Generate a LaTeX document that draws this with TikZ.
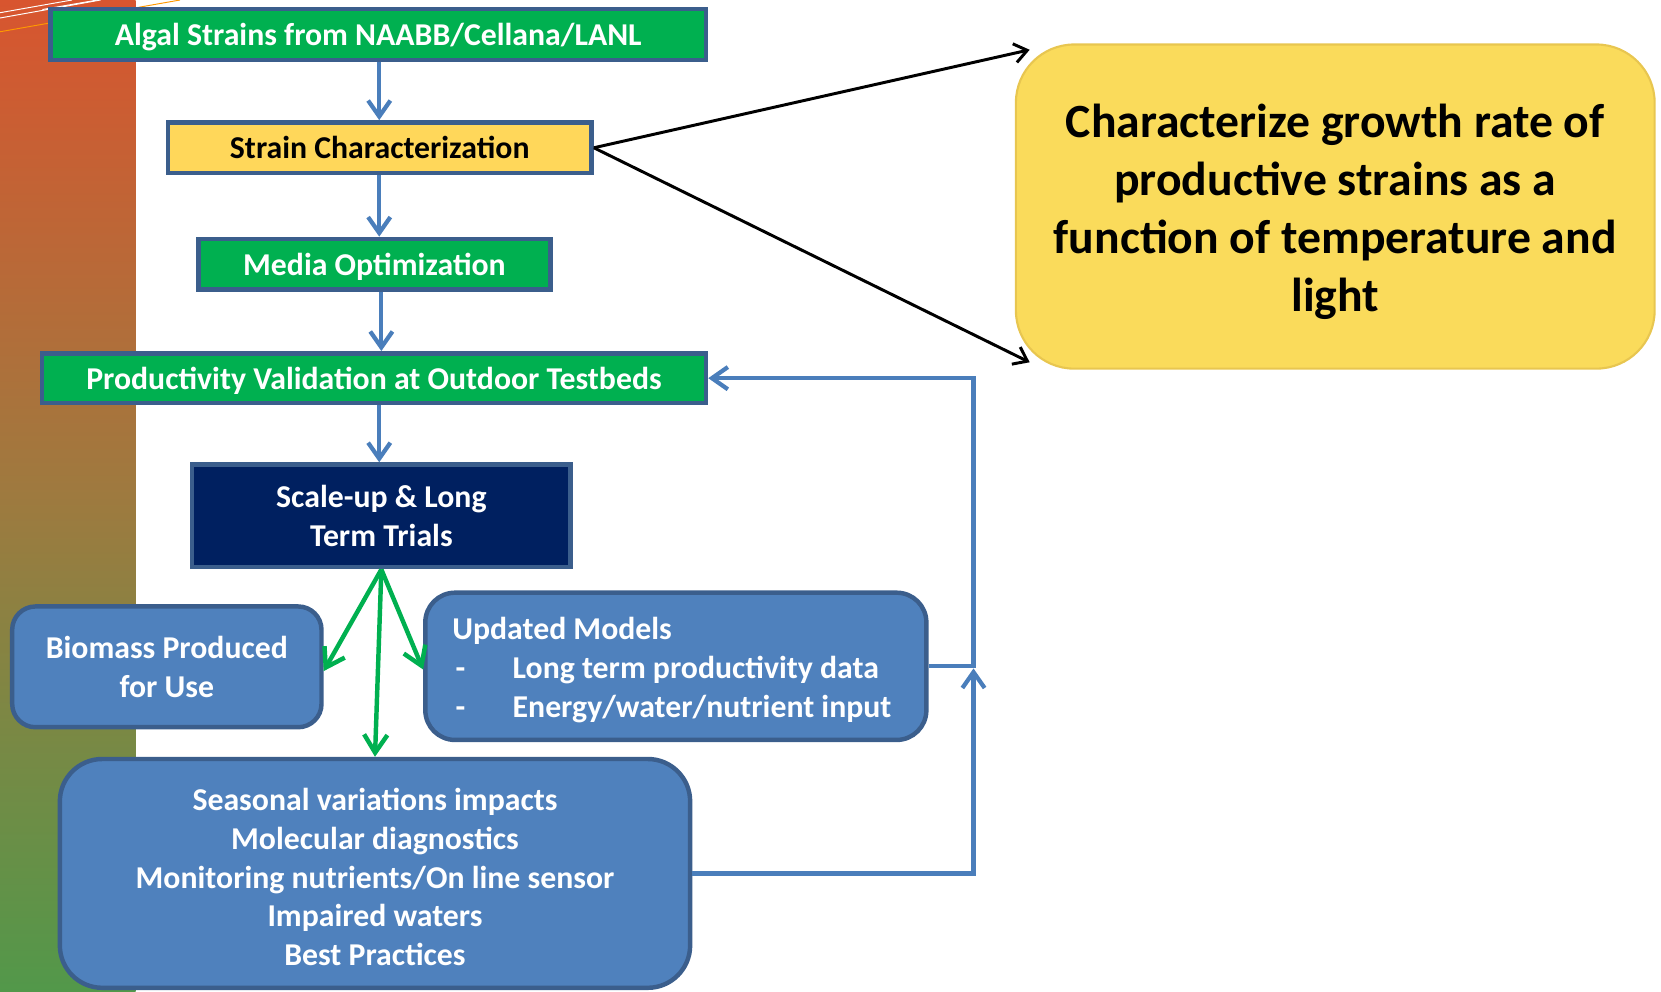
\documentclass[tikz,border=0pt]{standalone}
\usepackage{fontspec}
\setmainfont{Carlito}
\usetikzlibrary{arrows.meta,calc}
\definecolor{pgreen}{HTML}{00B050}
\definecolor{pborder}{HTML}{3B5E8C}
\definecolor{pblue}{HTML}{4F81BD}
\definecolor{pnavy}{HTML}{002060}
\definecolor{pyel}{HTML}{FFD75A}
\definecolor{bigyel}{HTML}{FADB5B}
\definecolor{bigedge}{HTML}{E8C650}
\definecolor{arrblue}{HTML}{4A7EBB}
\definecolor{bartop}{HTML}{D8552F}
\definecolor{barmid}{HTML}{9E7A3F}
\definecolor{barbot}{HTML}{52984A}
\newcommand{\mystrutA}{\rule{0pt}{28pt}}
\newcommand{\mystrutB}{\rule{0pt}{42pt}}
\begin{document}
\begin{tikzpicture}[x=1pt,y=-1pt,
  every node/.style={font=\bfseries\fontsize{30}{36.5}\selectfont},
  oneline/.style={text height=30.5pt, text depth=9.5pt},
  sstrut/.style={execute at begin node=\mystrutA},
  flatbox/.style={draw=pborder, line width=4.2pt, inner sep=0pt, align=center},
  greenbox/.style={flatbox, fill=pgreen, text=white},
  yelbox/.style={flatbox, fill=pyel, text=black},
  navybox/.style={flatbox, fill=pnavy, text=white},
  bluebox/.style={draw=pborder, line width=4.2pt, fill=pblue, text=white, inner sep=0pt},
  bigbox/.style={draw=bigedge, line width=2pt, fill=bigyel, text=black, rounded corners=55pt,
    inner sep=0pt, align=flush center, font=\bfseries\fontsize{45}{54.7}\selectfont,
    execute at begin node=\mystrutB},
  barrow/.style={draw=arrblue, line width=4pt, -{Straight Barb[length=15pt,width=21pt]}},
  garrow/.style={draw=pgreen, line width=4.2pt, -{Straight Barb[length=17pt,width=22pt]}},
  karrow/.style={draw=black, line width=2.8pt, -{Straight Barb[length=12pt,width=18pt]}},
]
\useasboundingbox (0,0) rectangle (1568,936);
% left decorative bar
\shade[top color=bartop, bottom color=barbot, middle color=barmid] (0,0) rectangle (128,936);
\draw[white, line width=0.9pt] (0,17) -- (95,0);
\draw[white, line width=0.9pt] (0,12) -- (68,0);
\draw[white, line width=0.9pt] (40,9) -- (92,0);
\draw[orange!80!yellow, line width=0.9pt] (0,30) -- (170,0);

% nodes
\node[greenbox, oneline, minimum width=619pt, minimum height=48pt] (b1) at (357,32.5) {Algal Strains from NAABB/Cellana/LANL};
\node[yelbox, oneline, minimum width=400pt, minimum height=48pt] (b2) at (358.5,139.5) {Strain Characterization};
\node[greenbox, oneline, minimum width=332pt, minimum height=48pt] (b3) at (353.5,249.5) {Media Optimization};
\node[greenbox, oneline, minimum width=627pt, minimum height=47pt] (b4) at (353,357) {Productivity Validation at Outdoor Testbeds};
\node[navybox, minimum width=357pt, minimum height=97pt] (b5) at (360,487) {Scale-up \& Long\\Term Trials};
\node[bluebox, rounded corners=22pt, minimum width=292pt, minimum height=114pt, align=center] (b6) at (157.5,629.5) {Biomass Produced\\for Use};
\node[bluebox, sstrut, rounded corners=28pt, minimum width=473pt, minimum height=139pt, text width=422pt, align=flush left] (b7) at (638,629)
  {Updated Models\\\makebox[57pt][l]{\hspace{3pt}-}Long term productivity data\\\makebox[57pt][l]{\hspace{3pt}-}Energy/water/nutrient input};
\node[bluebox, sstrut, rounded corners=40pt, minimum width=595pt, minimum height=216pt, text width=590pt, align=flush center] (b8) at (354,824.5)
  {Seasonal variations impacts\\Molecular diagnostics\\Monitoring nutrients/On line sensor\\Impaired waters\\Best Practices};
\node[bigbox, minimum width=603pt, minimum height=306pt, text width=595pt] (big) at (1260.5,195)
  {Characterize growth rate of\\productive strains as a\\function of temperature and\\light};

% helper coordinates
\coordinate (ax) at (358,0);
\coordinate (ax2) at (360,0);
\coordinate (t1) at (972,47);
\coordinate (t2) at (972,342);
\coordinate (fbtop) at (919,357);
\coordinate (fbmid) at (919,631);

% blue flow arrows
\draw[barrow] (b1.south -| ax) -- (b2.north -| ax);
\draw[barrow] (b2.south -| ax) -- (b3.north -| ax);
\draw[barrow] (b3.south -| ax2) -- (b4.north -| ax2);
\draw[barrow] (b4.south -| ax) -- (b5.north -| ax);

% black arrows
\draw[karrow] (b2.east) -- (t1);
\draw[karrow] (b2.east) -- (t2);

% green arrows
\draw[garrow] (b5.south) -- ([yshift=-4pt]b6.east);
\draw[garrow] (b5.south) -- ([yshift=-3pt]b7.west);
\draw[garrow] (b5.south) -- (b8.north);

% feedback loop
\draw[barrow, line join=miter] (b7.east) -| (fbtop) -- (b4.east);
\draw[barrow, line join=miter] (b8.east) -| (fbmid);
\end{tikzpicture}
\end{document}
